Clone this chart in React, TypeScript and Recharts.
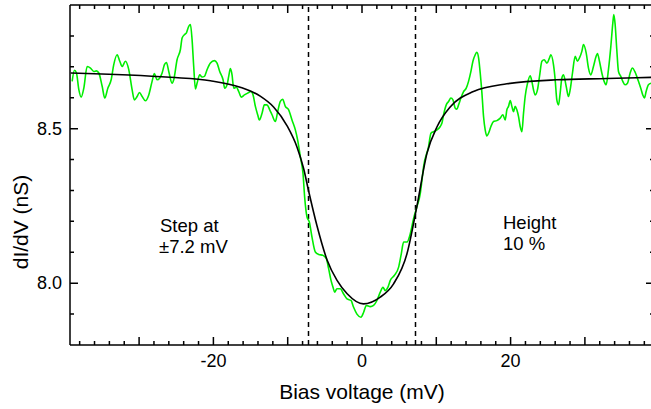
import React from 'react';
import { LineChart, Line, XAxis, YAxis, ReferenceLine, Customized } from 'recharts';

// measured dI/dV trace (bias in mV, conductance in nS)
const GREEN_V = [
  -39.01, -38.7, -38.43, -38.11, -37.8, -37.44, -36.99, -36.54, -36.1, -35.74, -35.42, -34.97, -34.62, -34.21,
  -33.76, -33.41, -32.96, -32.6, -32.28, -31.84, -31.39, -30.94, -30.63, -30.27, -29.95, -29.59, -29.15, -28.7,
  -28.25, -27.94, -27.58, -27.22, -26.9, -26.59, -26.32, -26.01, -25.56, -25.34, -24.89, -24.44, -24.21, -23.9,
  -23.63, -23.32, -23.09, -22.87, -22.65, -22.42, -22.2, -21.84, -21.52, -21.21, -20.85, -20.4, -19.87, -19.51,
  -19.15, -18.7, -18.48, -18.16, -17.94, -17.71, -17.49, -17.27, -16.91, -16.59, -16.23, -15.83, -15.38, -14.93,
  -14.66, -14.35, -14.04, -13.81, -13.45, -13.14, -12.78, -12.42, -12.11, -11.66, -11.35, -10.99, -10.68, -10.32,
  -9.87, -9.42, -8.97, -8.66, -8.3, -7.94, -7.72, -7.4, -7.09, -6.73, -6.28, -5.83, -5.25, -4.8, -4.49, -4.17,
  -3.9, -3.68, -3.37, -2.92, -2.47, -2.02, -1.48, -1.13, -0.68, -0.14, 0.22, 0.58, 1.12, 1.56, 2.01, 2.46, 2.82,
  3.13, 3.49, 3.81, 4.34, 4.93, 5.29, 5.6, 6.05, 6.5, 6.94, 7.39, 7.84, 8.07, 8.29, 8.96, 9.28, 9.63, 10.08,
  10.53, 10.76, 10.98, 11.34, 11.65, 11.97, 12.24, 12.55, 12.77, 13.0, 13.31, 13.67, 14.03, 14.34, 14.66, 14.93,
  15.24, 15.46, 15.69, 15.91, 16.14, 16.36, 16.58, 16.81, 17.03, 17.35, 17.7, 18.15, 18.6, 18.96, 19.27, 19.5,
  19.72, 19.95, 20.17, 20.39, 20.62, 20.84, 21.07, 21.29, 21.52, 21.74, 21.96, 22.28, 22.64, 22.86, 23.08, 23.31,
  23.62, 23.89, 24.21, 24.52, 24.88, 25.24, 25.42, 25.77, 26.0, 26.22, 26.45, 26.67, 26.9, 27.12, 27.48, 27.79,
  28.02, 28.33, 28.69, 29.0, 29.27, 29.59, 29.81, 30.17, 30.48, 30.8, 31.15, 31.51, 31.69, 31.96, 32.28, 32.59,
  32.86, 33.17, 33.49, 33.76, 33.89, 34.07, 34.29, 34.52, 34.83, 35.1, 35.41, 35.73, 36.09, 36.4, 36.71, 36.98,
  37.21, 37.52, 37.79, 38.01, 38.24, 38.55, 38.91,
];
const GREEN_G = [
  8.653, 8.689, 8.68, 8.626, 8.602, 8.631, 8.701, 8.696, 8.685, 8.687, 8.68, 8.637, 8.599, 8.631,
  8.658, 8.707, 8.739, 8.718, 8.701, 8.718, 8.691, 8.626, 8.593, 8.604, 8.617, 8.604, 8.59, 8.609,
  8.653, 8.678, 8.658, 8.664, 8.68, 8.707, 8.714, 8.685, 8.647, 8.658, 8.723, 8.756, 8.793, 8.804,
  8.81, 8.831, 8.837, 8.788, 8.701, 8.628, 8.647, 8.674, 8.667, 8.669, 8.691, 8.712, 8.72, 8.712,
  8.685, 8.658, 8.631, 8.642, 8.669, 8.694, 8.674, 8.631, 8.634, 8.62, 8.602, 8.609, 8.615, 8.62,
  8.609, 8.572, 8.545, 8.528, 8.55, 8.577, 8.577, 8.561, 8.545, 8.523, 8.555, 8.588, 8.595, 8.572,
  8.561, 8.528, 8.496, 8.463, 8.409, 8.355, 8.279, 8.214, 8.198, 8.149, 8.101, 8.093, 8.09, 8.079, 8.047, 8.009,
  7.987, 7.971, 7.982, 7.982, 7.965, 7.949, 7.944, 7.922, 7.9, 7.89, 7.906, 7.928, 7.924, 7.928, 7.944, 7.971, 7.987,
  7.976, 7.987, 8.009, 8.025, 8.052, 8.095, 8.133, 8.133, 8.16, 8.209, 8.247, 8.29, 8.333, 8.377, 8.442, 8.485, 8.49, 8.496,
  8.507, 8.518, 8.545, 8.577, 8.588, 8.599, 8.593, 8.566, 8.563, 8.577, 8.599, 8.62, 8.631, 8.653, 8.685, 8.718,
  8.739, 8.747, 8.729, 8.68, 8.615, 8.539, 8.496, 8.476, 8.485, 8.507, 8.523, 8.526, 8.534, 8.545, 8.528, 8.561,
  8.572, 8.591, 8.572, 8.555, 8.572, 8.561, 8.539, 8.507, 8.49, 8.55, 8.604, 8.647, 8.671, 8.653, 8.626, 8.609,
  8.626, 8.669, 8.718, 8.723, 8.712, 8.729, 8.739, 8.707, 8.658, 8.593, 8.577, 8.615, 8.664, 8.674, 8.637, 8.604,
  8.626, 8.68, 8.734, 8.718, 8.729, 8.75, 8.772, 8.745, 8.696, 8.674, 8.701, 8.734, 8.743, 8.718, 8.68, 8.653,
  8.642, 8.691, 8.766, 8.842, 8.869, 8.837, 8.756, 8.685, 8.669, 8.653, 8.642, 8.647, 8.68, 8.696, 8.685, 8.669,
  8.653, 8.631, 8.609, 8.599, 8.62, 8.642, 8.647,
];

// fitted step curve
const FIT_V = [-39.2, -25.8, -20.4, -16.4, -13.7, -11.9, -10.1, -8.74, -7.85, -7.2, -6.05, -4.7, -3.36, -2.0, 0.2,
  2.46, 4.25, 6.05, 7.4, 8.74, 10.1, 11.9, 15.0, 19.5, 26.2, 33.0, 39.2];
const FIT_G = [8.68, 8.666, 8.655, 8.634, 8.605, 8.57, 8.51, 8.44, 8.37, 8.3, 8.185, 8.075, 8.009, 7.966, 7.933,
  7.955, 7.998, 8.095, 8.25, 8.42, 8.506, 8.571, 8.62, 8.645, 8.658, 8.662, 8.666];

const STEPS = [-7.2, 7.2];

const X_TICKS = [-38, -36, -34, -32, -30, -28, -26, -24, -22, -20, -18, -16, -14, -12, -10, -8, -6, -4, -2, 0,
  2, 4, 6, 8, 10, 12, 14, 16, 18, 20, 22, 24, 26, 28, 30, 32, 34, 36, 38];
const X_LABELS = [-20, 0, 20];
const Y_TICKS = [7.9, 8.0, 8.1, 8.2, 8.3, 8.4, 8.5, 8.6, 8.7, 8.8];
const Y_LABELS = ['8.0', '8.5'];

const X_MIN = -39.3;
const X_MAX = 39.3;
const Y_MIN = 7.8;
const Y_MAX = 8.9;

const greenData = GREEN_V.map((v, i) => ({ v, g: GREEN_G[i] }));
const fitData = FIT_V.map((v, i) => ({ v, g: FIT_G[i] }));

// plot frame (follows from the chart margins and axis sizes below)
const LEFT = 70;
const TOP = 5;
const BOTTOM = 345;
const RIGHT = 654;

// tick positions for the inward frame ticks
const px = (v: number) => LEFT + ((v - X_MIN) / (X_MAX - X_MIN)) * (RIGHT - LEFT);
const py = (g: number) => BOTTOM - ((g - Y_MIN) / (Y_MAX - Y_MIN)) * (BOTTOM - TOP);
const xLen = (v: number) => (v % 10 === 0 ? 8 : 4);
const yLen = (g: number) => (Y_LABELS.includes(g.toFixed(1)) ? 8 : 4);

const BottomTick = (props: any) => {
  const { x, payload } = props;
  const v = payload.value;
  if (!X_LABELS.includes(v)) return <g />;
  return <text x={x} y={BOTTOM + 22} textAnchor="middle" fontSize={18} fill="#000">{v}</text>;
};

const LeftTick = (props: any) => {
  const { y, payload } = props;
  const s = Number(payload.value).toFixed(1);
  if (!Y_LABELS.includes(s)) return <g />;
  return <text x={LEFT - 8} y={y + 6} textAnchor="end" fontSize={18} fill="#000">{s}</text>;
};

const Frame = () => {
  let d = `M${LEFT},${TOP}H${RIGHT}V${BOTTOM}`;
  X_TICKS.forEach((t) => {
    const x = px(t);
    d += `M${x},${BOTTOM}V${BOTTOM - xLen(t)}M${x},${TOP}V${TOP + xLen(t)}`;
  });
  Y_TICKS.forEach((t) => {
    const y = py(t);
    d += `M${LEFT},${y}H${LEFT + yLen(t)}M${RIGHT},${y}H${RIGHT - yLen(t)}`;
  });
  return <path d={d} stroke="#000" strokeWidth={1.5} fill="none" />;
};

const Notes = () => (
  <g fill="#000">
    <Frame />
    <text x={362} y={399} textAnchor="middle" fontSize={21}>Bias voltage (mV)</text>
    <text x={28} y={222} textAnchor="middle" fontSize={21} transform="rotate(-90 28 222)">dI/dV (nS)</text>
    <g fontSize={18.5}>
      <text x={160} y={232}>Step at</text>
      <text x={159} y={253}>±7.2 mV</text>
      <text x={503} y={229}>Height</text>
      <text x={503} y={250}>10 %</text>
    </g>
  </g>
);

const axisLine = { stroke: '#000', strokeWidth: 1.5 };

export default function App() {
  return (
    <div
      style={{
        position: 'absolute',
        left: 0,
        top: 0,
        width: 651,
        height: 409,
        overflow: 'hidden',
        background: '#fff',
        fontFamily: '"Liberation Sans", Arial, sans-serif',
      }}
    >
      <LineChart width={660} height={409} margin={{ top: 5, right: 6, bottom: 0, left: 0 }}>
        <XAxis
          dataKey="v"
          type="number"
          domain={[X_MIN, X_MAX]}
          allowDataOverflow
          ticks={X_TICKS}
          interval={0}
          height={64}
          tickLine={false}
          axisLine={axisLine}
          tick={<BottomTick />}
        />
        <YAxis
          type="number"
          domain={[Y_MIN, Y_MAX]}
          allowDataOverflow
          ticks={Y_TICKS}
          interval={0}
          width={70}
          tickLine={false}
          axisLine={axisLine}
          tick={<LeftTick />}
        />
        {STEPS.map((s) => (
          <ReferenceLine key={s} x={s} stroke="#000" strokeWidth={1.5} strokeDasharray="5 4" />
        ))}
        <Line
          data={greenData}
          dataKey="g"
          type="monotone"
          stroke="#00ee00"
          strokeWidth={1.6}
          dot={false}
          isAnimationActive={false}
        />
        <Line
          data={fitData}
          dataKey="g"
          type="monotone"
          stroke="#000"
          strokeWidth={1.6}
          dot={false}
          isAnimationActive={false}
        />
        <Customized component={<Notes />} />
      </LineChart>
    </div>
  );
}
